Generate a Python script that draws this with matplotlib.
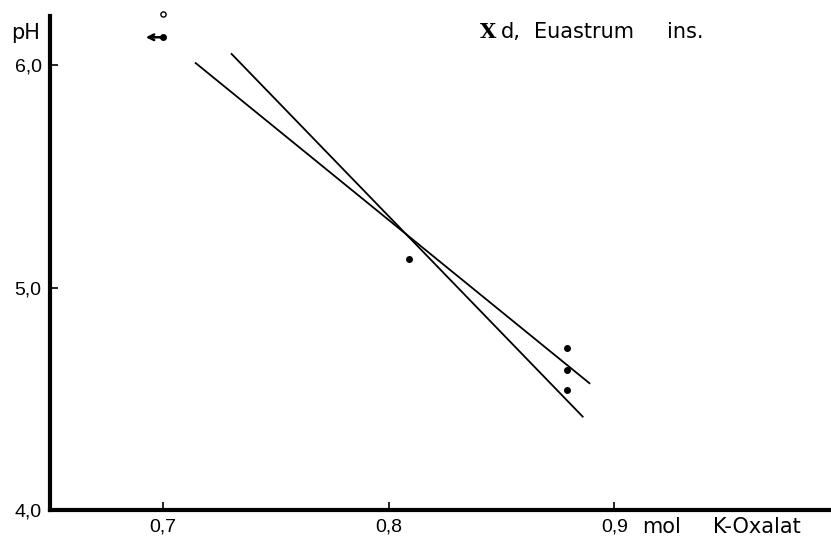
import matplotlib
matplotlib.use("Agg")
import matplotlib.pyplot as plt

plt.rcParams['font.family'] = ['Liberation Sans', 'DejaVu Sans']

# measured points (mol K-Oxalat, pH)
pts_x = [0.70, 0.809, 0.879, 0.879, 0.879]
pts_y = [6.125, 5.13, 4.73, 4.63, 4.54]
open_x = [0.70]
open_y = [6.23]

# two regression lines (end points)
line1_x = [0.7146, 0.889]
line1_y = [6.009, 4.57]
line2_x = [0.7305, 0.886]
line2_y = [6.05, 4.42]

xticks = [0.7, 0.8, 0.9]
xtick_labels = ['0,7', '0,8', '0,9']
yticks = [4.0, 5.0, 6.0]
ytick_labels = ['4,0', '5,0', '6,0']

fig = plt.figure(figsize=(8.31, 5.38), dpi=100)
ax = fig.add_axes([0.06, 0.052, 0.94, 0.918])

ax.plot(line1_x, line1_y, color='black', lw=1.3)
ax.plot(line2_x, line2_y, color='black', lw=1.3)
ax.scatter(pts_x, pts_y, s=16, color='black', zorder=3, clip_on=False)
ax.scatter(open_x, open_y, s=14, facecolors='white', edgecolors='black', lw=1.0,
           zorder=3, clip_on=False)
ax.annotate('', xy=(0.6925, pts_y[0]), xytext=(0.699, pts_y[0]),
            arrowprops=dict(arrowstyle='->', color='black', lw=1.8,
                            shrinkA=0, shrinkB=0))

ax.set_xlim(0.65, 0.996)
ax.set_ylim(4.0, 6.22)
ax.set_xticks(xticks)
ax.set_xticklabels(xtick_labels)
ax.set_yticks(yticks)
ax.set_yticklabels(ytick_labels)
ax.tick_params(direction='in', length=6, width=1.2, labelsize=14, pad=6)

for s in ['top', 'right']:
    ax.spines[s].set_visible(False)
for s in ['left', 'bottom']:
    ax.spines[s].set_linewidth(3)

# x-axis unit label, set next to the 0,9 tick label
ax.annotate('mol', xy=(0.9124, 0), xycoords=('data', 'axes fraction'),
            xytext=(0, -12), textcoords='offset points', fontsize=15,
            ha='left', va='center', family='DejaVu Sans')
ax.annotate('K-Oxalat', xy=(0.9438, 0), xycoords=('data', 'axes fraction'),
            xytext=(0, -12), textcoords='offset points', fontsize=15,
            ha='left', va='center', family='DejaVu Sans')
ax.text(-0.05, 6.145, 'pH', fontsize=15, ha='left', va='center',
        transform=ax.get_yaxis_transform(), clip_on=False, family='DejaVu Sans')
ax.text(0.8403, 6.15, 'X', fontsize=15, ha='left', va='center',
        family='DejaVu Serif', fontweight='bold')
ax.text(0.8498, 6.15, 'd,', fontsize=15, ha='left', va='center',
        family='DejaVu Sans')
ax.text(0.8646, 6.15, 'Euastrum', fontsize=15, ha='left', va='center',
        family='DejaVu Sans')
ax.text(0.9235, 6.15, 'ins.', fontsize=15, ha='left', va='center',
        family='DejaVu Sans')

fig.savefig('out.png', dpi=100, facecolor='white')
